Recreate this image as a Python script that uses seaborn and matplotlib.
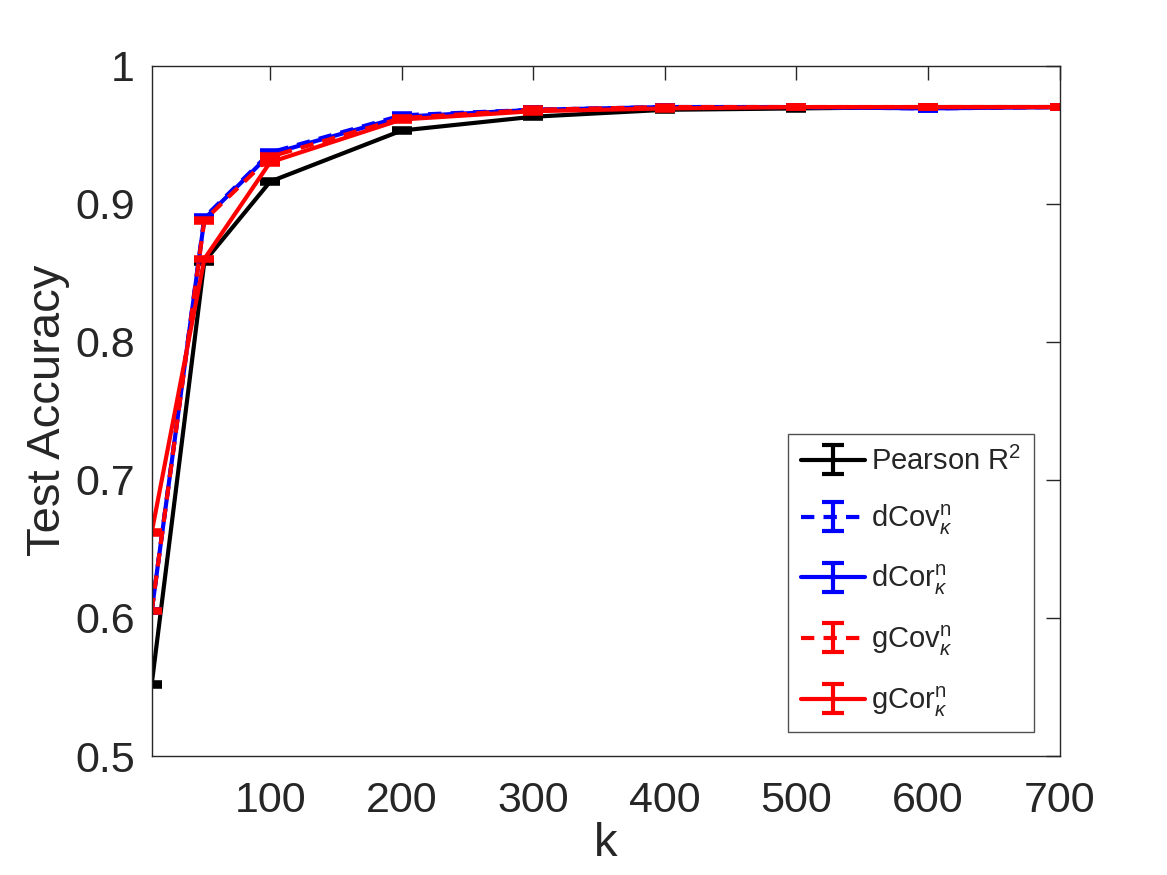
import numpy as np
import pandas as pd
import seaborn as sns
import matplotlib
matplotlib.use("Agg")
import matplotlib.pyplot as plt

# values
k = [10, 50, 100, 200, 300, 400, 500, 600, 700]
pearson = [0.552, 0.858, 0.916, 0.953, 0.963, 0.968, 0.969, 0.970, 0.970]
dcov = [0.605, 0.890, 0.937, 0.964, 0.968, 0.970, 0.970, 0.969, 0.970]
dcor = [0.605, 0.889, 0.936, 0.963, 0.968, 0.970, 0.970, 0.969, 0.970]
gcov = [0.605, 0.888, 0.934, 0.962, 0.968, 0.970, 0.970, 0.970, 0.970]
gcor = [0.662, 0.860, 0.930, 0.961, 0.967, 0.969, 0.970, 0.970, 0.970]
err = [0.001] * len(k)

labels = ["Pearson R$^2$",
          r"dCov$^{\mathrm{n}}_{\kappa}$",
          r"dCor$^{\mathrm{n}}_{\kappa}$",
          r"gCov$^{\mathrm{n}}_{\kappa}$",
          r"gCor$^{\mathrm{n}}_{\kappa}$"]
series = [pearson, dcov, dcor, gcov, gcor]
colors = ["black", "#0000ff", "#0000ff", "#ff0000", "#ff0000"]
styles = ["-", "--", "-", "--", "-"]

sns.set_theme(style="white")
plt.rcParams['font.family'] = ['Liberation Sans', 'DejaVu Sans']
plt.rcParams['mathtext.fontset'] = 'custom'
plt.rcParams['mathtext.rm'] = 'Liberation Sans'
plt.rcParams['mathtext.it'] = 'Liberation Sans:italic'

df = pd.concat([pd.DataFrame({"k": k, "acc": s, "method": lab})
                for s, lab in zip(series, labels)], ignore_index=True)

fig = plt.figure(figsize=(11.67, 8.75), dpi=100)
ax = fig.add_axes([0.130, 0.136, 0.778, 0.789])

lw = 3.0
for s, lab, c, ls in zip(series, labels, colors, styles):
    sub = df[df["method"] == lab]
    sns.lineplot(data=sub, x="k", y="acc", ax=ax, color=c, linewidth=lw,
                 legend=False)
    ax.lines[-1].set_linestyle(ls)
    if ls == "--":
        ax.lines[-1].set_dashes((3.2, 2.2))
    ax.errorbar(k, s, yerr=err, fmt="none", ecolor=c, elinewidth=lw,
                capsize=7, capthick=lw + 1)

# legend proxies that show the error bar glyph
handles = []
for lab, c, ls in zip(labels, colors, styles):
    h = ax.errorbar([np.nan], [np.nan], yerr=[0.0], color=c, ls=ls,
                    linewidth=lw, elinewidth=lw, capsize=8, capthick=lw,
                    label=lab)
    if ls == "--":
        h.lines[0].set_dashes((3.2, 2.2))
    handles.append(h)

leg = ax.legend(handles=handles, labels=labels, loc="lower right",
                bbox_to_anchor=(0.972, 0.035), borderaxespad=0,
                fontsize=21, frameon=True, fancybox=False,
                handlelength=2.2, handletextpad=0.2, labelspacing=0.9,
                borderpad=0.45)
leg.get_frame().set_edgecolor("#262626")
leg.get_frame().set_linewidth(1.0)

ax.set_xlim(10, 700)
ax.set_ylim(0.5, 1.0)
ax.set_xticks([100, 200, 300, 400, 500, 600, 700])
ax.set_yticks([0.5, 0.6, 0.7, 0.8, 0.9, 1.0])
ax.set_yticklabels(["0.5", "0.6", "0.7", "0.8", "0.9", "1"])
ax.set_xlabel("k", fontsize=34, color="#262626", labelpad=1)
ax.set_ylabel("Test Accuracy", fontsize=34, color="#262626", labelpad=4)
ax.tick_params(axis="both", direction="in", length=10, width=1.0,
               labelsize=31, colors="#262626", top=True, right=True)
ax.tick_params(axis="x", pad=18)
ax.tick_params(axis="y", pad=12)
for sp in ax.spines.values():
    sp.set_visible(True)
    sp.set_color("#262626")
    sp.set_linewidth(1.0)

fig.savefig("out.png", dpi=100)
